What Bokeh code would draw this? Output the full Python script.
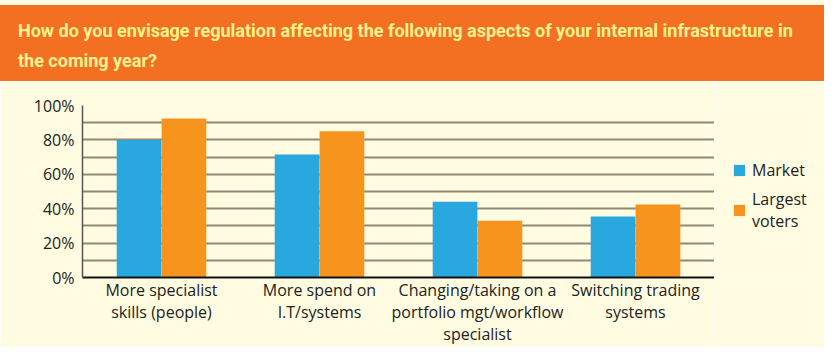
from bokeh.plotting import figure
from bokeh.models import (Range1d, FactorRange, FixedTicker, NumeralTickFormatter,
                          Legend, LegendItem, ColumnDataSource, Div)
from bokeh.transform import dodge
from bokeh.layouts import column, row
from bokeh.embed import file_html
from bokeh.resources import INLINE

# ---- data ----
title_lines = ["How do you envisage regulation affecting the following aspects of your internal infrastructure in",
               "the coming year?"]
categories = [
    "More specialist\nskills (people)",
    "More spend on\nI.T/systems",
    "Changing/taking on a\nportfolio mgt/workflow\nspecialist",
    "Switching trading\nsystems",
]
market = [0.80, 0.715, 0.44, 0.355]
largest_voters = [0.925, 0.85, 0.33, 0.425]
y_label_ticks = [0, 0.2, 0.4, 0.6, 0.8, 1.0]
grid_ticks = [0, 0.1, 0.2, 0.3, 0.4, 0.5, 0.6, 0.7, 0.8, 0.9, 1.0]
series_names = ["Market", "Largest\nvoters"]
series_colors = ["#29A8E0", "#F7941D"]

CREAM = "#FFFCE1"
ORANGE_HDR = "#F37022"
FONT = "Open Sans"
W = 824
PW = 714          # chart part width
LW = W - PW       # legend part width
H = 266

# ---- header (HTML text block) ----
header_html = (
    f'<div style="width:{W}px;height:81px;background:{CREAM};margin:0;padding:5px 0 0 0;box-sizing:border-box;">'
    f'<div style="width:{W}px;height:76px;background:{ORANGE_HDR};color:#FFF38D;'
    f'font-family:Roboto;font-weight:bold;font-size:18px;line-height:30px;'
    f'padding:11px 0 0 18px;box-sizing:border-box;white-space:nowrap;">'
    f'{title_lines[0]}<br>{title_lines[1]}</div></div>'
)
header = Div(text=header_html, width=W, height=81, margin=0)

# ---- chart ----
src = ColumnDataSource(dict(cat=categories, market=market, largest=largest_voters))

p = figure(width=PW, height=H, x_range=FactorRange(*categories), y_range=Range1d(0, 1),
           toolbar_location=None, output_backend="svg",
           min_border_left=82, min_border_right=0, min_border_top=24, min_border_bottom=69)
p.background_fill_color = CREAM
p.border_fill_color = CREAM
p.outline_line_color = None

p.xgrid.visible = False
p.ygrid.ticker = FixedTicker(ticks=grid_ticks)
p.ygrid.grid_line_color = "#8E8A7B"
p.ygrid.grid_line_width = 2

p.yaxis.ticker = FixedTicker(ticks=y_label_ticks)
p.yaxis.formatter = NumeralTickFormatter(format="0%")
p.yaxis.major_tick_line_color = None
p.yaxis.minor_tick_line_color = None
p.yaxis.axis_line_color = "#555555"
p.yaxis.axis_line_width = 1.5
p.yaxis.major_label_text_font = FONT
p.yaxis.major_label_text_font_size = "16px"
p.yaxis.major_label_text_color = "#222222"
p.yaxis.major_label_standoff = 2

p.xaxis.major_tick_line_color = None
p.xaxis.axis_line_color = "#111111"
p.xaxis.axis_line_width = 2
p.xaxis.major_label_text_font = FONT
p.xaxis.major_label_text_font_size = "16px"
p.xaxis.major_label_text_color = "#222222"
p.xaxis.major_label_text_line_height = 1.0
p.xaxis.major_label_standoff = -5

p.vbar(x=dodge("cat", -0.142, range=p.x_range), top="market", width=0.283,
       source=src, fill_color=series_colors[0], line_color=None)
p.vbar(x=dodge("cat", 0.142, range=p.x_range), top="largest", width=0.283,
       source=src, fill_color=series_colors[1], line_color=None)

# ---- legend panel ----
lf = figure(width=LW, height=H, x_range=Range1d(0, 1), y_range=Range1d(0, 1),
            x_axis_type=None, y_axis_type=None, toolbar_location=None, output_backend="svg",
            min_border_left=0, min_border_right=0, min_border_top=24, min_border_bottom=69)
lf.grid.visible = False
lf.outline_line_color = None
lf.background_fill_color = CREAM
lf.border_fill_color = CREAM
# zero-size stub glyphs that only carry the legend key colours
keys = [lf.vbar(x=[0], top=[0], width=0, fill_color=c, line_color=None) for c in series_colors]

legend = Legend(items=[LegendItem(label=n, renderers=[k]) for n, k in zip(series_names, keys)],
                location=(18, 45), padding=0, margin=0, spacing=7,
                glyph_width=14, glyph_height=14, label_standoff=6,
                label_text_font=FONT, label_text_font_size="16px",
                label_text_color="#222222",
                background_fill_alpha=0, border_line_color=None)
lf.add_layout(legend, "center")

layout = column(header, row(p, lf, spacing=0), spacing=0)
open("out.html", "w").write(file_html(layout, INLINE))
